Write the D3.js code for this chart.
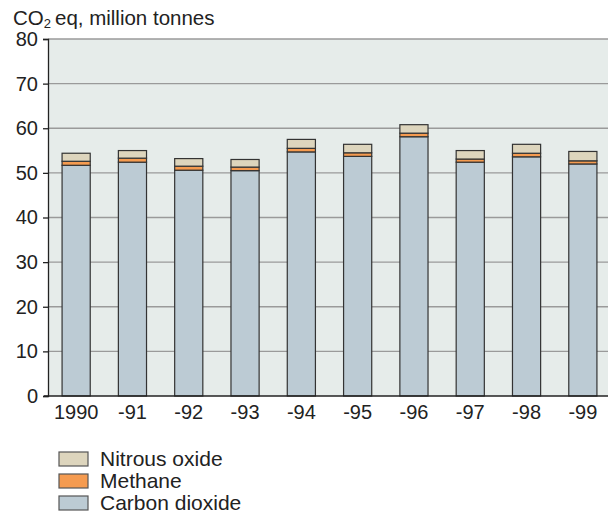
<!DOCTYPE html>
<html>
<head>
<meta charset="utf-8">
<script src="https://cdn.jsdelivr.net/npm/d3@7"></script>
<style>
  body { margin: 0; background: #fff; }
  svg { display: block; font-family: "Liberation Sans", Arial, sans-serif; }
</style>
</head>
<body>
<div id="chart"></div>
<script>
// data
const years = ["1990", "-91", "-92", "-93", "-94", "-95", "-96", "-97", "-98", "-99"];
const carbonDioxide = [51.7, 52.4, 50.6, 50.5, 54.7, 53.7, 58.1, 52.4, 53.6, 52.0];
const methane = [0.9, 0.9, 0.9, 0.8, 0.8, 0.8, 0.8, 0.7, 0.8, 0.7];
const nitrousOxide = [1.8, 1.7, 1.7, 1.7, 2.0, 1.9, 1.9, 1.9, 2.0, 2.1];
const yTicks = [0, 10, 20, 30, 40, 50, 60, 70, 80];

const seriesKeys = ["co2", "ch4", "n2o"];
const seriesNames = { co2: "Carbon dioxide", ch4: "Methane", n2o: "Nitrous oxide" };
const colors = { co2: "#bccbd4", ch4: "#f59b50", n2o: "#ddd5bd" };

const table = years.map((y, i) => ({
  year: y, co2: carbonDioxide[i], ch4: methane[i], n2o: nitrousOxide[i]
}));

const width = 608, height = 529;
const plotLeft = 48, plotRight = 611, plotTop = 39, plotBottom = 396;

const svg = d3.select("#chart").append("svg")
  .attr("width", width)
  .attr("height", height);

const x = d3.scaleBand()
  .domain(years)
  .range([plotLeft, plotRight])
  .paddingInner(0.5)
  .paddingOuter(0.25);

const y = d3.scaleLinear()
  .domain([0, 80])
  .range([plotBottom, plotTop]);

// plot background
svg.append("rect")
  .attr("x", plotLeft).attr("y", plotTop)
  .attr("width", width - plotLeft).attr("height", plotBottom - plotTop)
  .attr("fill", "#e6ecea");

// gridlines
svg.append("g")
  .selectAll("line")
  .data(yTicks.filter(d => d > 0))
  .enter()
  .append("line")
  .attr("x1", plotLeft).attr("x2", width)
  .attr("y1", d => y(d)).attr("y2", d => y(d))
  .attr("stroke", "#9a9a9a")
  .attr("stroke-width", 1.4);

// stacked bars
const stack = d3.stack().keys(seriesKeys);
const layers = stack(table);

svg.append("g")
  .selectAll("g")
  .data(layers)
  .enter()
  .append("g")
  .attr("fill", d => colors[d.key])
  .selectAll("rect")
  .data(d => d)
  .enter()
  .append("rect")
  .attr("x", d => x(d.data.year))
  .attr("width", x.bandwidth())
  .attr("y", d => y(d[1]))
  .attr("height", d => y(d[0]) - y(d[1]))
  .attr("stroke", "#333")
  .attr("stroke-width", 1.2);

// y axis
const yAxis = svg.append("g")
  .attr("transform", "translate(" + plotLeft + ",0)")
  .call(d3.axisLeft(y).tickValues(yTicks).tickSize(5).tickPadding(5));
yAxis.select(".domain").attr("stroke", "#222").attr("stroke-width", 1.3);
yAxis.selectAll(".tick line").attr("stroke", "#222").attr("stroke-width", 1.3);
yAxis.selectAll("text")
  .style("font-size", "20px")
  .attr("fill", "#222");

// x axis
const xAxis = svg.append("g")
  .attr("transform", "translate(0," + plotBottom + ")")
  .call(d3.axisBottom(x).tickSize(0).tickPadding(9));
xAxis.select(".domain").remove();
xAxis.selectAll("text")
  .style("font-size", "20px")
  .attr("fill", "#222");
svg.append("line")
  .attr("x1", plotLeft - 4).attr("x2", width)
  .attr("y1", plotBottom).attr("y2", plotBottom)
  .attr("stroke", "#222")
  .attr("stroke-width", 1.3);

// title
const title = svg.append("text")
  .attr("x", 13).attr("y", 25)
  .style("font-size", "20.5px")
  .attr("fill", "#222");
title.append("tspan").text("CO");
title.append("tspan").attr("dy", 3).style("font-size", "13px").text("2");
title.append("tspan").attr("dy", -3).attr("dx", 4).text("eq, million tonnes");

// legend
const legendOrder = ["n2o", "ch4", "co2"];
const legend = svg.append("g")
  .selectAll("g")
  .data(legendOrder)
  .enter()
  .append("g")
  .attr("transform", (d, i) => "translate(59," + (452 + i * 22) + ")");
legend.append("rect")
  .attr("width", 29).attr("height", 14)
  .attr("fill", d => colors[d])
  .attr("stroke", "#555")
  .attr("stroke-width", 1.2);
legend.append("text")
  .attr("x", 41).attr("y", 14)
  .style("font-size", "21px")
  .attr("fill", "#222")
  .text(d => seriesNames[d]);
</script>
</body>
</html>
